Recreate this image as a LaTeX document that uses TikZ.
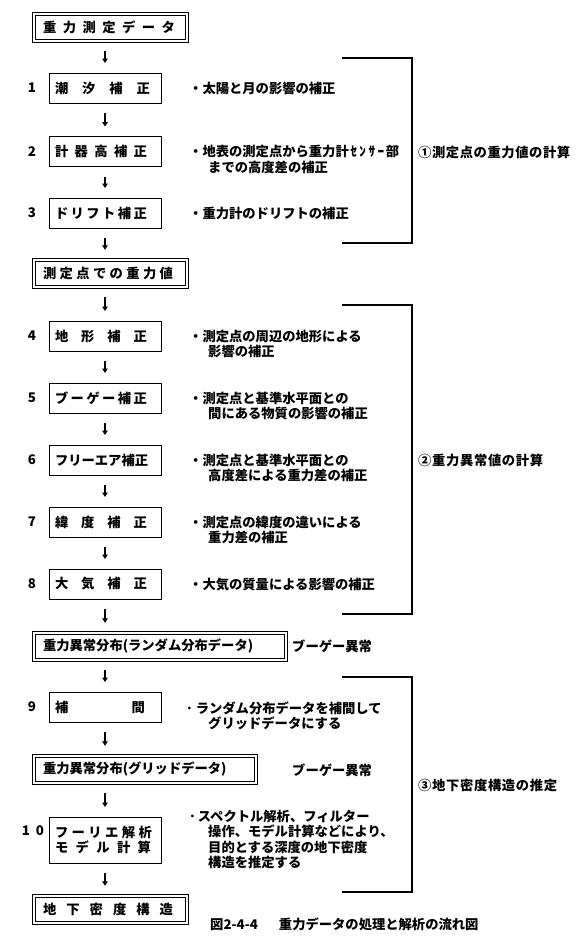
\documentclass[tikz,border=0pt]{standalone}
\usepackage{fontspec}
\setmainfont{Noto Sans CJK JP}
\usetikzlibrary{arrows.meta,calc}
\newcommand\spr[2]{\makebox[#1][s]{#2}}
\begin{document}
\begin{tikzpicture}[x=1pt,y=-1pt,
  font=\bfseries\fontsize{13.3}{15.5}\selectfont,
  sbox/.style={draw, line width=0.8pt, minimum width=112pt, minimum height=30pt, text width=100pt, inner xsep=6pt, inner ysep=0pt, align=left, outer sep=0pt},
  dbox/.style={draw, line width=0.8pt, double, double distance=2pt, minimum height=27.4pt, inner xsep=9.2pt, inner ysep=0pt, align=left, outer sep=0pt},
  arr/.style={line width=1.3pt, -{Triangle[width=5.5pt,length=4.5pt]}, shorten <=10pt, shorten >=10pt},
  num/.style={anchor=center, inner sep=0pt},
  desc/.style={anchor=north west, align=left, inner sep=0pt},
  brk/.style={line width=1.2pt},
  lab/.style={anchor=west, inner sep=0pt}]
\useasboundingbox (0,0) rectangle (585,943);
% main column
\node[dbox, text width=135pt] (d1) at (110.5,27.5) {\spr{132pt}{重\hfil 力\hfil 測\hfil 定\hfil デ\hfil ー\hfil タ}};
\node[sbox] (b1) at (105,88) {\spr{95pt}{潮\hfil 汐\hfil 補\hfil 正}};
\node[sbox] (b2) at (105,151.5) {\spr{92pt}{計\hfil 器\hfil 高\hfil 補\hfil 正}};
\node[sbox] (b3) at (105,213) {\spr{92pt}{ド\hfil リ\hfil フ\hfil ト\hfil 補\hfil 正}};
\node[dbox, text width=135pt] (d2) at (110.5,273.5) {\spr{130pt}{測\hfil 定\hfil 点\hfil で\hfil の\hfil 重\hfil 力\hfil 値}};
\node[sbox] (b4) at (105,336) {\spr{92pt}{地\hfil 形\hfil 補\hfil 正}};
\node[sbox] (b5) at (105,398) {\spr{92pt}{ブ\hfil ー\hfil ゲ\hfil ー\hfil 補\hfil 正}};
\node[sbox] (b6) at (105,460) {フリーエア補正};
\node[sbox] (b7) at (105,522) {\spr{92pt}{緯\hfil 度\hfil 補\hfil 正}};
\node[sbox] (b8) at (105,584) {\spr{92pt}{大\hfil 気\hfil 補\hfil 正}};
\node[dbox, text width=234pt] (d3) at (160,646.5) {重力異常分布(ランダム分布データ)};
\node[sbox] (b9) at (105,707) {\spr{90pt}{補\hfil 間}};
\node[dbox, text width=204pt] (d4) at (145,769.5) {重力異常分布(グリッドデータ)};
\node[sbox, minimum height=46pt] (b10) at (105,840) {\spr{97pt}{フ\hfil ー\hfil リ\hfil エ\hfil 解\hfil 析}\\\spr{96pt}{モ\hfil デ\hfil ル\hfil 計\hfil 算}};
\node[dbox, text width=135pt] (d5) at (110.5,909.5) {\spr{130pt}{地\hfil 下\hfil 密\hfil 度\hfil 構\hfil 造}};
% arrows
\draw[arr] (d1.south -| b1.north) -- (b1.north);
\draw[arr] (b1.south) -- (b2.north);
\draw[arr] (b2.south) -- (b3.north);
\draw[arr] (b3.south) -- (b3.south |- d2.north);
\draw[arr] (d2.south -| b4.north) -- (b4.north);
\draw[arr] (b4.south) -- (b5.north);
\draw[arr] (b5.south) -- (b6.north);
\draw[arr] (b6.south) -- (b7.north);
\draw[arr] (b7.south) -- (b8.north);
\draw[arr] (b8.south) -- (b8.south |- d3.north);
\draw[arr] (d3.south -| b9.north) -- (b9.north);
\draw[arr] (b9.south) -- (b9.south |- d4.north);
\draw[arr] (d4.south -| b10.north) -- (b10.north);
\draw[arr] (b10.south) -- (b10.south |- d5.north);
% numbers
\node[num] (n1) at (32,88) {1};
\node[num] (n2) at (32,151.5) {2};
\node[num] (n3) at (32,213) {3};
\node[num] (n4) at (32,336) {4};
\node[num] (n5) at (32,398) {5};
\node[num] (n6) at (32,460) {6};
\node[num] (n7) at (32,522) {7};
\node[num] (n8) at (32,584) {8};
\node[num] (n9) at (32,707) {9};
\node[num] (n10) at (33,831) {1\hspace{6pt}0};
% descriptions
\node[desc] (t1) at (189,81.5) {・太陽と月の影響の補正};
\node[desc] (t2) at (189,145) {・地表の測定点から重力計\hspace{1.5pt}\spr{34pt}{ｾ\hfil ﾝ\hfil ｻ\hfil ｰ}\hspace{1.5pt}部\\\hspace*{19pt}までの高度差の補正};
\node[desc] (t3) at (189,206.5) {・重力計のドリフトの補正};
\node[desc] (t4) at (189,329.5) {・測定点の周辺の地形による\\\hspace*{19pt}影響の補正};
\node[desc] (t5) at (189,391.5) {・測定点と基準水平面との\\\hspace*{19pt}間にある物質の影響の補正};
\node[desc] (t6) at (189,453.5) {・測定点と基準水平面との\\\hspace*{19pt}高度差による重力差の補正};
\node[desc] (t7) at (189,515.5) {・測定点の緯度の違いによる\\\hspace*{19pt}重力差の補正};
\node[desc] (t8) at (189,577.5) {・大気の質量による影響の補正};
\node[desc] (t9) at (186,701.5) {･\hspace{3pt}ランダム分布データを補間して\\\hspace*{22pt}グリッドデータにする};
\node[desc] (t10) at (189,809.5) {･\hspace{2pt}スペクトル解析、フィルター\\\hspace*{19pt}操作、モデル計算などにより、\\\hspace*{19pt}目的とする深度の地下密度\\\hspace*{19pt}構造を推定する};
% side labels
\node[lab] (g1) at (292,646.5) {ブーゲー異常};
\node[lab] (g2) at (292,770) {ブーゲー異常};
% brackets
\coordinate (k1a) at (342,58); \coordinate (k1b) at (412,58);
\coordinate (k1c) at (412,243); \coordinate (k1d) at (342,243);
\draw[brk] (k1a) -- (k1b) -- (k1c) -- (k1d);
\coordinate (k2a) at (342,305); \coordinate (k2b) at (412,305);
\coordinate (k2c) at (412,614); \coordinate (k2d) at (342,614);
\draw[brk] (k2a) -- (k2b) -- (k2c) -- (k2d);
\coordinate (k3a) at (342,677); \coordinate (k3b) at (412,677);
\coordinate (k3c) at (412,892); \coordinate (k3d) at (342,892);
\draw[brk] (k3a) -- (k3b) -- (k3c) -- (k3d);
\node[lab] (l1) at (418,152) {\spr{152pt}{①\hfil 測\hfil 定\hfil 点\hfil の\hfil 重\hfil 力\hfil 値\hfil の\hfil 計\hfil 算}};
\node[lab] (l2) at (418,460) {\spr{125pt}{②\hfil 重\hfil 力\hfil 異\hfil 常\hfil 値\hfil の\hfil 計\hfil 算}};
\node[lab] (l3) at (418,785) {\spr{139pt}{③\hfil 地\hfil 下\hfil 密\hfil 度\hfil 構\hfil 造\hfil の\hfil 推\hfil 定}};
% caption
\node[lab] (cap) at (210,924) {図2-4-4\hspace{21pt}重力データの処理と解析の流れ図};
\end{tikzpicture}
\end{document}
